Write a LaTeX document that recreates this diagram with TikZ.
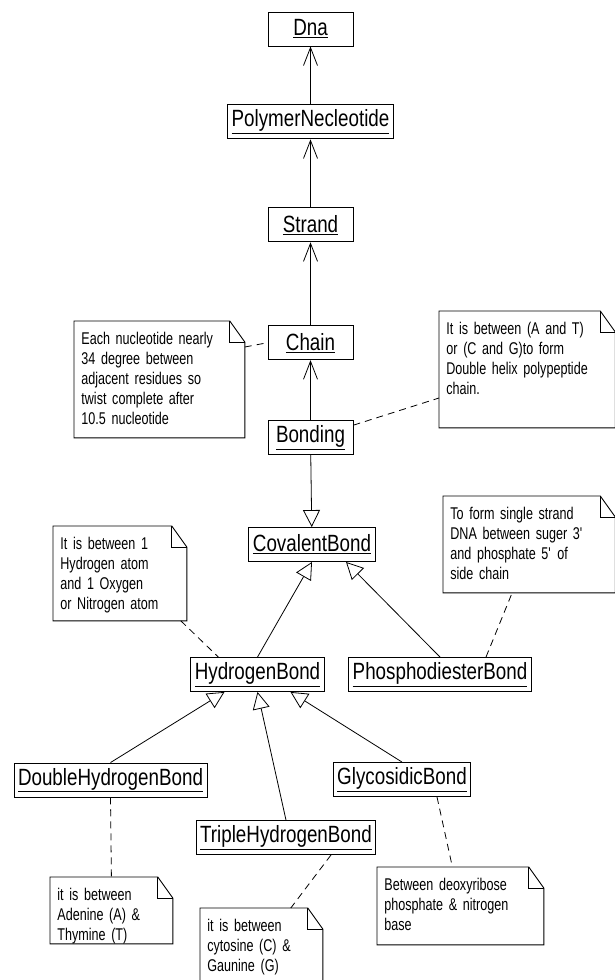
\documentclass[tikz,border=0pt]{standalone}
\usepackage{fontspec}
\setmainfont[FakeStretch=0.8]{Liberation Sans}
\newfontfamily\notefont[FakeStretch=0.74]{Liberation Sans}
\usetikzlibrary{positioning, arrows.meta}

\begin{document}
\begin{tikzpicture}
[x=1pt, y=-1pt,
 line width=0.8pt,
 class/.style={draw, line width=0.9pt, minimum width=85pt, minimum height=34pt,
 inner xsep=4pt, inner ysep=2pt, font=\fontsize{23.5}{28}\selectfont},
 note/.style={anchor=north west, align=left, inner xsep=7pt, inner ysep=0pt,
 text height=23pt, font=\notefont\fontsize{17}{20}\selectfont,
 append after command={\pgfextra{
   \draw[line width=0.9pt] (\tikzlastnode.north west) -- ([xshift=-15pt]\tikzlastnode.north east)
     -- ([yshift=-21pt]\tikzlastnode.north east) -- (\tikzlastnode.south east)
     -- (\tikzlastnode.south west) -- cycle;
   \draw[line width=0.9pt] ([xshift=-15pt]\tikzlastnode.north east) |- ([yshift=-21pt]\tikzlastnode.north east);}}},
 assoc/.style={-{Straight Barb[length=18pt, width=14pt]}},
 inherit/.style={-{Triangle[open, length=17pt, width=17pt]}},
 link/.style={dash pattern=on 7pt off 5pt},
]
\useasboundingbox (0,0) rectangle (615,980);

\node[class] (dna) at (310.5,29) {\underline{Dna}};
\node[class, below=58pt of dna] (poly) {\underline{PolymerNecleotide}};
\node[class, below=68pt of poly] (strand) {\underline{Strand}};
\node[class, below=83pt of strand] (chain) {\underline{Chain}};
\node[class, below=60pt of chain] (bonding) {\underline{Bonding}};
\node[class] (covalent) at (312,544.5) {\underline{CovalentBond}};
\node[class] (hydrogen) at (257.5,674.5) {\underline{HydrogenBond}};
\node[class] (phospho) at (440,674.5) {\underline{PhosphodiesterBond}};
\node[class] (double) at (110.5,780) {\underline{DoubleHydrogenBond}};
\node[class] (glyco) at (402,779.5) {\underline{GlycosidicBond}};
\node[class] (triple) at (286,837.5) {\underline{TripleHydrogenBond}};

\node[note, text width=156pt, text depth=93pt] (n1) at (74,321)
  {Each nucleotide nearly\\34 degree between\\adjacent residues so\\twist complete after\\10.5 nucleotide};
\node[note, text width=161.5pt, text depth=93pt] (n2) at (439,311)
  {It is between (A and T)\\or (C and G)to form\\Double helix polypeptide\\chain.};
\node[note, text width=119pt, text depth=71pt] (n3) at (53,526)
  {It is between 1\\Hydrogen atom\\and 1 Oxygen\\or Nitrogen atom};
\node[note, text width=157.5pt, text depth=73pt] (n4) at (443,496)
  {To form single strand\\DNA between suger 3\textquotesingle\\and phosphate 5\textquotesingle\ of\\side chain};
\node[note, text width=108pt, text depth=43pt] (n5) at (50,877)
  {it is between\\Adenine (A) \&\\Thymine (T)};
\node[note, text width=108pt, text depth=64pt] (n6) at (200,908)
  {it is between\\cytosine (C) \&\\Gaunine (G)};
\node[note, text width=152pt, text depth=54pt] (n7) at (377,867)
  {Between deoxyribose\\phosphate \& nitrogen\\base};

\draw[assoc] (poly) -- (dna);
\draw[assoc] (strand) -- (poly);
\draw[assoc] (chain) -- (strand);
\draw[assoc] (bonding) -- (chain);

\draw[inherit] (bonding) -- (covalent);
\draw[inherit] (hydrogen.north) -- (covalent.south);
\draw[inherit] (phospho.north) -- ([xshift=34pt]covalent.south);
\draw[inherit] (double.north) -- ([xshift=-33pt]hydrogen.south);
\draw[inherit] (triple.north) -- (hydrogen.south);
\draw[inherit] (glyco.north) -- ([xshift=33pt]hydrogen.south);

\draw[link] ([yshift=-26pt]n1.north east) -- (chain.west);
\draw[link] ([yshift=-5pt]bonding.north east) -- ([yshift=-87pt]n2.north west);
\draw[link] ([xshift=-6pt]n3.south east) -- ([xshift=28pt]hydrogen.north west);
\draw[link] ([xshift=46pt]phospho.north) -- ([xshift=-17pt]n4.south);
\draw[link] (double.south) -- (n5.north);
\draw[link] ([xshift=45pt]triple.south) -- ([xshift=-32pt]n6.north east);
\draw[link] ([xshift=35pt]glyco.south) -- ([xshift=-8pt]n7.north);
\end{tikzpicture}
\end{document}
